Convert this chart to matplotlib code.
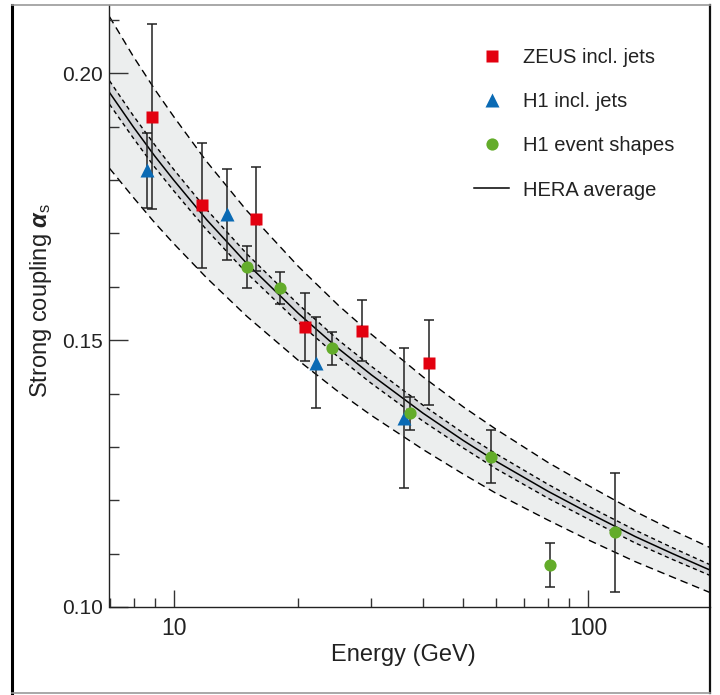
import numpy as np
import matplotlib.pyplot as plt
from matplotlib.lines import Line2D
from matplotlib.ticker import LogLocator, MultipleLocator, NullFormatter

plt.rcParams['font.family'] = ['Liberation Sans', 'DejaVu Sans']
plt.rcParams['mathtext.fontset'] = 'custom'
plt.rcParams['mathtext.rm'] = 'Liberation Sans'
plt.rcParams['mathtext.it'] = 'Liberation Sans:italic'
plt.rcParams['mathtext.bf'] = 'Liberation Sans:bold:italic'

# HERA average curve and its two uncertainty bands (half widths)
band_energy = [7, 8, 9, 10, 12, 15, 20, 25, 30, 40, 50, 60, 80, 100, 130, 160, 200]
hera_central = [0.1964, 0.1899, 0.1845, 0.1800, 0.1726, 0.1644, 0.1550, 0.1484, 0.1435,
                0.1363, 0.1312, 0.1273, 0.1217, 0.1177, 0.1132, 0.1100, 0.1067]
hera_exp = [0.0022, 0.0021, 0.0021, 0.0020, 0.0019, 0.0018, 0.0017, 0.0016, 0.0016,
            0.0015, 0.0014, 0.0014, 0.0013, 0.0012, 0.0012, 0.0011, 0.0010]
hera_total = [0.0142, 0.0132, 0.0125, 0.0119, 0.0109, 0.0099, 0.0088, 0.0081, 0.0076,
              0.0068, 0.0063, 0.0060, 0.0054, 0.0051, 0.0047, 0.0044, 0.0042]

zeus_energy = [8.87, 11.71, 15.83, 20.79, 28.49, 41.40]
zeus_alpha = [0.1919, 0.1753, 0.1727, 0.1525, 0.1518, 0.1458]
zeus_err = [0.0174, 0.0117, 0.0097, 0.0064, 0.0057, 0.0080]

h1jet_energy = [8.63, 13.46, 22.10, 35.9]
h1jet_alpha = [0.1818, 0.1736, 0.1458, 0.1354]
h1jet_err = [0.0071, 0.0085, 0.0086, 0.0131]

h1shape_energy = [15.03, 18.03, 24.1, 37.1, 58.3, 81.1, 116.4]
h1shape_alpha = [0.1637, 0.1597, 0.1485, 0.1363, 0.1282, 0.1078, 0.1140]
h1shape_err = [0.0040, 0.0030, 0.0031, 0.0031, 0.0050, 0.0041, 0.0112]

labels = ['ZEUS incl. jets', 'H1 incl. jets', 'H1 event shapes', 'HERA average']
red, blue, green = '#e3000f', '#0a6ab4', '#63ac2a'
ink = '#222222'

W, H = 720, 695
fig = plt.figure(figsize=(W / 100, H / 100), dpi=100)
ax = fig.add_axes([109.5 / W, 1 - 607 / H, (710 - 109.5) / W, (607 - 5) / H])

E = np.array(band_energy)
c = np.array(hera_central)
ex = np.array(hera_exp)
tot = np.array(hera_total)

ax.fill_between(E, c - tot, c + tot, color='#eceeee', lw=0, zorder=0)
ax.fill_between(E, c - ex, c + ex, color='#d5d7da', lw=0, zorder=0.5)
for s in (-1, 1):
    ax.plot(E, c + s * tot, color='k', lw=1.0, dashes=(5.5, 3.5), zorder=1)
    ax.plot(E, c + s * ex, color='k', lw=1.0, dashes=(3, 2.5), zorder=1)
ax.plot(E, c, color='k', lw=1.1, zorder=1.2)

eb = dict(ecolor=ink, elinewidth=1.1, capsize=3.5, capthick=1.1, ls='none')
ax.errorbar(zeus_energy, zeus_alpha, yerr=zeus_err, marker='s', ms=8.5,
            mfc=red, mec='none', zorder=3, **eb)
ax.errorbar(h1jet_energy, h1jet_alpha, yerr=h1jet_err, marker='^', ms=10,
            mfc=blue, mec='none', zorder=3, **eb)
ax.errorbar(h1shape_energy, h1shape_alpha, yerr=h1shape_err, marker='o', ms=8.8,
            mfc=green, mec='none', zorder=3, **eb)

ax.set_xscale('log')
ax.set_xlim(7, 197)
ax.set_ylim(0.10, 0.2128)
ax.set_xticks([10, 100])
ax.set_xticklabels(['10', '100'])
ax.xaxis.set_minor_locator(LogLocator(base=10, subs=np.arange(2, 10)))
ax.xaxis.set_minor_formatter(NullFormatter())
ax.set_yticks([0.10, 0.15, 0.20])
ax.set_yticklabels(['0.10', '0.15', '0.20'])
ax.yaxis.set_minor_locator(MultipleLocator(0.01))

ax.tick_params(axis='both', which='both', direction='in', color='#333333', width=1.0,
               labelcolor=ink)
ax.tick_params(axis='x', which='major', length=12.5, pad=7, labelsize=16.5)
ax.tick_params(axis='x', which='minor', length=6.5)
ax.tick_params(axis='y', which='major', length=14, pad=5, labelsize=15)
ax.tick_params(axis='y', which='minor', length=7)

for side in ('top', 'right'):
    ax.spines[side].set_visible(False)
for side in ('left', 'bottom'):
    ax.spines[side].set_color(ink)
    ax.spines[side].set_linewidth(1.0)

ax.set_xlabel('Energy (GeV)', fontsize=17, color=ink)
ax.set_ylabel(r'Strong coupling $\mathbf{\alpha}_{\mathrm{s}}$', fontsize=17, color=ink)
ax.xaxis.set_label_coords(0.49, -0.062)
ax.yaxis.set_label_coords(-0.092, 0.51)

handles = [Line2D([], [], ls='none', marker='s', ms=8.5, mfc=red, mec='none'),
           Line2D([], [], ls='none', marker='^', ms=10, mfc=blue, mec='none'),
           Line2D([], [], ls='none', marker='o', ms=8.8, mfc=green, mec='none'),
           Line2D([], [], color='k', lw=1.1)]
fig.legend(handles, labels, loc='upper left', bbox_to_anchor=(474 / W, 1 - 48 / H),
           frameon=False, fontsize=14.5, handlelength=1.75, handletextpad=0.7,
           labelspacing=1.25, borderpad=0, borderaxespad=0, labelcolor=ink)

# outer frame of the picture
fx = lambda v: v / W
fy = lambda v: 1 - v / H
fig.add_artist(Line2D([fx(12), fx(12)], [fy(5), fy(693)], color='k', lw=2.2))
fig.add_artist(Line2D([fx(710), fx(710)], [fy(5), fy(693)], color='#111111', lw=1.6))
fig.add_artist(Line2D([fx(12), fx(710)], [fy(5), fy(5)], color='#9a9a9a', lw=1.2))
fig.add_artist(Line2D([fx(12), fx(710)], [fy(693), fy(693)], color='#9a9a9a', lw=1.2))

fig.savefig('out.png', dpi=100)
